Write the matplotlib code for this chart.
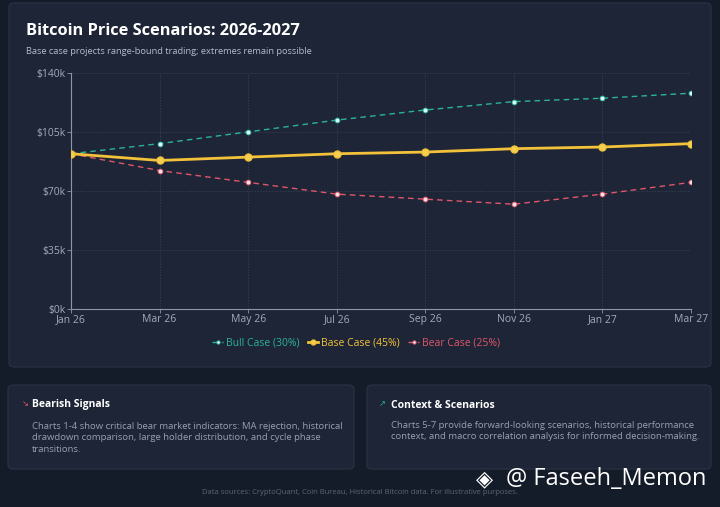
import matplotlib.pyplot as plt
from matplotlib.patches import FancyBboxPatch

months = ['Jan 26', 'Mar 26', 'May 26', 'Jul 26', 'Sep 26', 'Nov 26', 'Jan 27', 'Mar 27']
bull = [92, 98, 105, 112, 118, 123, 125, 128]
base = [92, 88, 90, 92, 93, 95, 96, 98]
bear = [92, 82, 75, 68, 65, 62, 68, 75]
yticks = [0, 35, 70, 105, 140]
ylabels = ['$0k', '$35k', '$70k', '$105k', '$140k']

plt.rcParams['font.family'] = ['Open Sans', 'DejaVu Sans']

W, H = 720, 507
fig = plt.figure(figsize=(7.2, 5.07), dpi=100)
fig.patch.set_facecolor('#151c29')

def card(x0, y0, x1, y1):
    # pixel coords, y from top
    p = FancyBboxPatch((x0 / W, 1 - y1 / H), (x1 - x0) / W, (y1 - y0) / H,
                       boxstyle='round,pad=0,rounding_size=0.008',
                       transform=fig.transFigure, facecolor='#1d2536',
                       edgecolor='#2b3447', linewidth=0.8, zorder=-10)
    fig.patches.append(p)

card(9, 3, 711, 367)
card(8, 385, 354, 469)
card(367, 385, 711, 469)

fig.text(26 / W, 1 - 31 / H, 'Bitcoin Price Scenarios: 2026-2027', color='white',
         fontsize=11.8, fontweight='bold', va='center')
fig.text(26 / W, 1 - 51 / H, 'Base case projects range-bound trading; extremes remain possible',
         color='#b4bccb', fontsize=6.7, va='center')

ax = fig.add_axes([71 / W, 1 - 308.5 / H, 620 / W, 235.5 / H])
ax.set_facecolor('none')
ax.set_zorder(2)
x = range(len(months))

ax.plot(x, bull, color='#2bb39b', lw=1, ls=(0, (4, 3)), marker='o', ms=3.5,
        mfc='#d8fbf4', mec='#2bb39b', mew=0.6, label='Bull Case (30%)', zorder=3)
ax.plot(x, base, color='#f3c23a', lw=2, marker='o', ms=5,
        mfc='#f5cf4f', mec='#f3c23a', label='Base Case (45%)', zorder=4)
ax.plot(x, bear, color='#e0566a', lw=1, ls=(0, (4, 3)), marker='o', ms=3.5,
        mfc='#fbe0e6', mec='#e0566a', mew=0.6, label='Bear Case (25%)', zorder=3)

ax.set_xlim(0, len(months) - 1)
ax.set_ylim(0, 140)
ax.set_xticks(list(x))
ax.set_xticklabels(months)
ax.set_yticks(yticks)
ax.set_yticklabels(ylabels)
ax.tick_params(colors='#8e97a8', labelsize=7.5, length=3, width=0.6, pad=1)
ax.tick_params(axis='x', labelcolor='#a3abbb')
ax.tick_params(axis='y', labelcolor='#a3abbb')
ax.grid(True, color='#3a455a', ls=(0, (2, 2)), lw=0.5)
for s in ['top', 'right']:
    ax.spines[s].set_visible(False)
for s in ['left', 'bottom']:
    ax.spines[s].set_color('#8e97a8')
    ax.spines[s].set_linewidth(0.8)

leg = ax.legend(loc='upper center', bbox_to_anchor=(0.46, -0.085), ncol=3, frameon=False,
                fontsize=7.5, handlelength=1.0, handletextpad=0.3, columnspacing=0.8,
                markerscale=0.7)
for t, c in zip(leg.get_texts(), ['#2bb39b', '#f3c23a', '#e0566a']):
    t.set_color(c)

fig.text(22 / W, 1 - 405 / H, '↘', color='#e0566a', fontsize=6, va='center')
fig.text(32 / W, 1 - 405 / H, 'Bearish Signals', color='white', fontsize=7.5,
         fontweight='bold', va='center')
fig.text(32 / W, 1 - 438 / H,
         'Charts 1-4 show critical bear market indicators: MA rejection, historical\n'
         'drawdown comparison, large holder distribution, and cycle phase\n'
         'transitions.',
         color='#98a1b2', fontsize=6.8, va='center', linespacing=1.4)

fig.text(379 / W, 1 - 405 / H, '↗', color='#2bb39b', fontsize=6, va='center')
fig.text(391 / W, 1 - 405 / H, 'Context & Scenarios', color='white', fontsize=7.5,
         fontweight='bold', va='center')
fig.text(391 / W, 1 - 431 / H,
         'Charts 5-7 provide forward-looking scenarios, historical performance\n'
         'context, and macro correlation analysis for informed decision-making.',
         color='#98a1b2', fontsize=6.8, va='center', linespacing=1.4)

fig.text(0.5, 1 - 493 / H,
         'Data sources: CryptoQuant, Coin Bureau, Historical Bitcoin data. For illustrative purposes.',
         color='#5c6576', fontsize=5.5, ha='center', va='center')

fig.text(476 / W, 1 - 480 / H, '◈', color='white', fontsize=16, va='center')
fig.text(506 / W, 1 - 479 / H, '@ Faseeh_Memon', color='white', fontsize=17, va='center')

plt.savefig('out.png', dpi=100, facecolor=fig.get_facecolor())
